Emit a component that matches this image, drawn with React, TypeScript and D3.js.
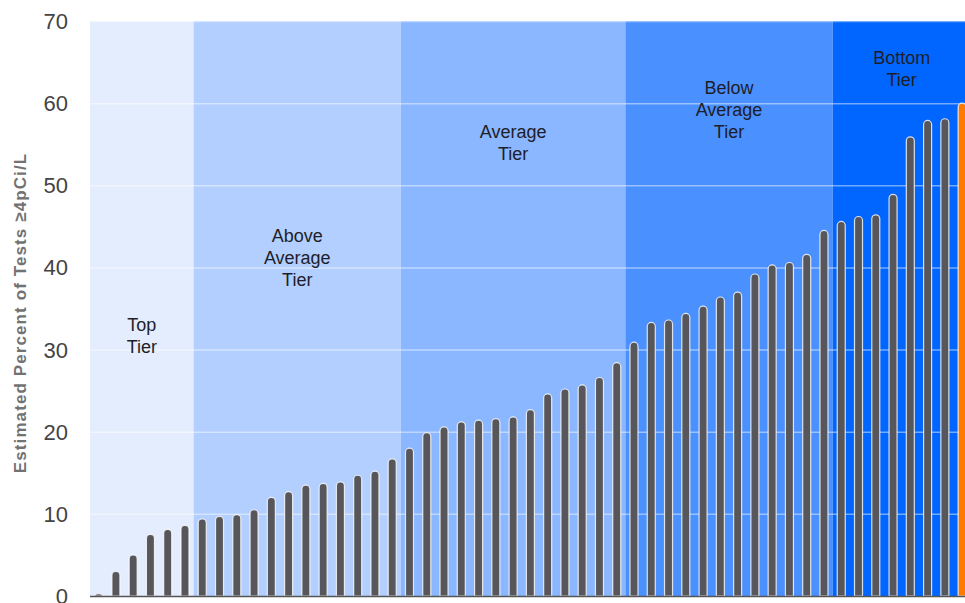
import React, { useEffect, useRef } from 'react';
import * as d3 from 'd3';

// percent of tests >= 4 pCi/L, sorted ascending (last one is the highlighted state)
const values = [
  0.3, 3.0, 5.0, 7.5, 8.1, 8.6, 9.4, 9.7, 9.9, 10.5, 12.0, 12.7, 13.5, 13.7,
  13.9, 14.7, 15.2, 16.7, 18.0, 19.9, 20.6, 21.2, 21.4, 21.6, 21.8, 22.7,
  24.6, 25.2, 25.7, 26.6, 28.4, 30.9, 33.3, 33.6, 34.4, 35.3, 36.4, 37.0,
  39.2, 40.3, 40.6, 41.6, 44.5, 45.6, 46.2, 46.4, 48.9, 55.9, 57.9, 58.1, 60.0,
];
const highlightIndex = 50;

const tierNames = ['Top Tier', 'Above Average Tier', 'Average Tier', 'Below Average Tier', 'Bottom Tier'];
const tierLines = [['Top', 'Tier'], ['Above', 'Average', 'Tier'], ['Average', 'Tier'], ['Below', 'Average', 'Tier'], ['Bottom', 'Tier']];
const tierStart = [0, 6, 18, 31, 43];
const tierEnd = [5, 17, 30, 42, 50];
const tierColors = ['#e3edfd', '#b2cfff', '#8ab7ff', '#4a90ff', '#0066ff'];
// value (percent) where the first line of each tier label sits
const tierLabelAt = [33.0, 43.8, 56.5, 61.8, 65.5];

const yTicks = [0, 10, 20, 30, 40, 50, 60, 70];

const W = 965;
const H = 603;

export default function App() {
  const svgRef = useRef<SVGSVGElement>(null);

  useEffect(() => {
    if (!svgRef.current) return;
    const svg = d3.select(svgRef.current);
    svg.selectAll('*').remove();

    const margin = { left: 90, top: 21, bottom: 596 };
    const step = 17.27;

    const x = d3
      .scaleBand<number>()
      .domain(values.map((_, i) => i))
      .range([margin.left, margin.left + values.length * step])
      .padding(0);

    const y = d3.scaleLinear().domain([0, 70]).range([margin.bottom, margin.top]);

    // tier backgrounds
    svg
      .append('g')
      .selectAll('rect')
      .data(tierNames)
      .enter()
      .append('rect')
      .attr('x', (_, i) => x(tierStart[i]) as number)
      .attr('width', (_, i) => (x(tierEnd[i]) as number) + x.bandwidth() - (x(tierStart[i]) as number))
      .attr('y', y(70))
      .attr('height', y(0) - y(70))
      .attr('fill', (_, i) => tierColors[i]);

    // grid
    svg
      .append('g')
      .selectAll('line')
      .data(yTicks.filter((t) => t > 0))
      .enter()
      .append('line')
      .attr('x1', margin.left)
      .attr('x2', W)
      .attr('y1', (d) => y(d) + 0.5)
      .attr('y2', (d) => y(d) + 0.5)
      .attr('stroke', '#ffffff')
      .attr('stroke-opacity', 0.45)
      .attr('stroke-width', 1.5);

    // bars with rounded tops
    const barW = 8;
    const r = barW / 2;
    const barPath = (i: number, v: number) => {
      const cx = (x(i) as number) + x.bandwidth() / 2;
      const x0 = cx - r;
      const x1 = cx + r;
      const b = y(0);
      const t = y(v);
      const rr = Math.min(r, b - t);
      return `M${x0},${b}L${x0},${t + rr}A${r},${rr} 0 0 1 ${x1},${t + rr}L${x1},${b}Z`;
    };

    svg
      .append('g')
      .selectAll('path')
      .data(values)
      .enter()
      .append('path')
      .attr('d', (d, i) => barPath(i, d))
      .attr('fill', (_, i) => (i === highlightIndex ? '#ff7a00' : '#57565a'))
      .attr('stroke', '#ffffff')
      .attr('stroke-opacity', 0.8)
      .attr('stroke-width', 1.2);

    // baseline
    svg
      .append('line')
      .attr('x1', margin.left)
      .attr('x2', W)
      .attr('y1', y(0) + 0.5)
      .attr('y2', y(0) + 0.5)
      .attr('stroke', '#555555')
      .attr('stroke-width', 1.5);

    // tier labels
    const labels = svg
      .append('g')
      .selectAll('text')
      .data(tierLines)
      .enter()
      .append('text')
      .attr('text-anchor', 'middle')
      .style('font-family', '"Liberation Sans", Arial, sans-serif')
      .style('font-size', '18px')
      .style('fill', '#1e1e28');

    labels
      .selectAll('tspan')
      .data((d, i) => d.map((line) => ({ line, i })))
      .enter()
      .append('tspan')
      .attr('x', (d) => {
        const a = x(tierStart[d.i]) as number;
        const b = (x(tierEnd[d.i]) as number) + x.bandwidth();
        return (a + b) / 2;
      })
      .attr('y', (d, k) => y(tierLabelAt[d.i]) + 6 + k * 22)
      .text((d) => d.line);

    // y axis ticks
    svg
      .append('g')
      .selectAll('text')
      .data(yTicks)
      .enter()
      .append('text')
      .attr('x', 68)
      .attr('y', (d) => y(d) + 8)
      .attr('text-anchor', 'end')
      .style('font-family', '"Liberation Sans", Arial, sans-serif')
      .style('font-size', '22px')
      .style('fill', '#444444')
      .text((d) => d);

    // y axis title
    svg
      .append('text')
      .attr('transform', `translate(26, 313) rotate(-90)`)
      .attr('text-anchor', 'middle')
      .style('font-family', '"Liberation Sans", Arial, sans-serif')
      .style('font-size', '17px')
      .style('font-weight', 'bold')
      .style('letter-spacing', '1.1px')
      .style('fill', '#727272')
      .text('Estimated Percent of Tests ≥4pCi/L');
  }, []);

  return (
    <svg
      ref={svgRef}
      width={W}
      height={H}
      style={{ position: 'absolute', left: 0, top: 0, background: '#ffffff' }}
    />
  );
}
